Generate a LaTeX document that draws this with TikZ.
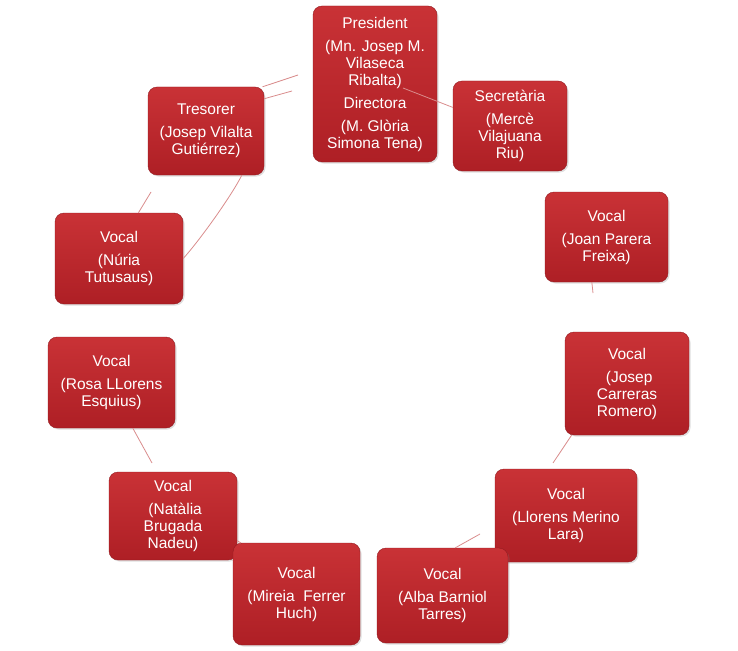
\documentclass[tikz,border=0pt]{standalone}
\usepackage{fontspec}
\setmainfont{Liberation Sans}
\usetikzlibrary{shadows}
\definecolor{boxtop}{HTML}{C93236}
\definecolor{boxbottom}{HTML}{AE1F25}
\definecolor{boxedge}{HTML}{931A1F}
\definecolor{linkred}{HTML}{D98C8C}
\begin{document}
\begin{tikzpicture}[x=1pt, y=-1pt, member/.style={rectangle, rounded corners=9pt, draw=boxedge, top color=boxtop, bottom color=boxbottom, text=white, align=center, inner sep=2pt, font=\fontsize{15.5}{17}\selectfont, drop shadow={opacity=0.25, shadow xshift=1.5pt, shadow yshift=-1.5pt}}, link/.style={draw=linkred, line width=0.8pt}]
    \useasboundingbox (0,0) rectangle (738,650);

    \node[member, minimum width=124pt, minimum height=156pt] (pres) at (375,84) {President\\[6pt](Mn. Josep M.\\Vilaseca\\Ribalta)\\[6pt]Directora\\[6pt](M. Glòria\\Simona Tena)};
    \node[member, minimum width=114pt, minimum height=90pt] (sec) at (510,126) {Secretària\\[6pt](Mercè\\Vilajuana\\Riu)};
    \node[member, minimum width=123pt, minimum height=90pt] (joan) at (606.5,237) {Vocal\\[6pt](Joan Parera\\Freixa)};
    \node[member, minimum width=124pt, minimum height=103pt] (carr) at (627,383.5) {Vocal\\[6pt]\ (Josep\\Carreras\\Romero)};
    \node[member, minimum width=142pt, minimum height=93pt] (llor) at (566,515.5) {Vocal\\[6pt](Llorens Merino\\Lara)};
    \node[member, minimum width=131pt, minimum height=95pt] (alba) at (442.5,595.5) {Vocal\\[6pt](Alba Barniol\\Tarres)};
    \node[member, minimum width=128pt, minimum height=88pt] (nata) at (173,516) {Vocal\\[6pt]\ (Natàlia\\Brugada\\Nadeu)};
    \node[member, minimum width=127pt, minimum height=102pt] (mire) at (296.5,594) {Vocal\\[6pt](Mireia\ \ Ferrer\\Huch)};
    \node[member, minimum width=127pt, minimum height=91pt] (rosa) at (111.5,382.5) {Vocal\\[6pt](Rosa LLorens\\Esquius)};
    \node[member, minimum width=128pt, minimum height=91pt] (nuria) at (119,258.5) {Vocal\\[6pt](Núria\\Tutusaus)};
    \node[member, minimum width=116pt, minimum height=88pt] (tres) at (206,131) {Tresorer\\[6pt](Josep Vilalta\\Gutiérrez)};

    \coordinate (ps) at (403,88);
    \coordinate (jc) at (593,293);
    \coordinate (cl) at (553,463);
    \coordinate (la) at (480,534);
    \coordinate (nm) at (241,543);
    \coordinate (rn) at (152,463);
    \coordinate (nt) at (151,192);
    \coordinate (tp1) at (298,75);
    \coordinate (tp2) at (292,91);

    \draw[link] (ps) -- (sec.162);
    \draw[link] (joan.252) -- (jc);
    \draw[link] (carr.223) -- (cl);
    \draw[link] (la) -- (alba.75);
    \draw[link] (nata.-21) -- (nm);
    \draw[link] (rosa.-65) -- (rn);
    \draw[link] (nuria.67) -- (nt);
    \draw[link] (nuria.east) .. controls (200,240) and (232,195) .. (tres.-51);
    \draw[link] (tres.38) -- (tp1);
    \draw[link] (tres.29) -- (tp2);
  \end{tikzpicture}
\end{document}
